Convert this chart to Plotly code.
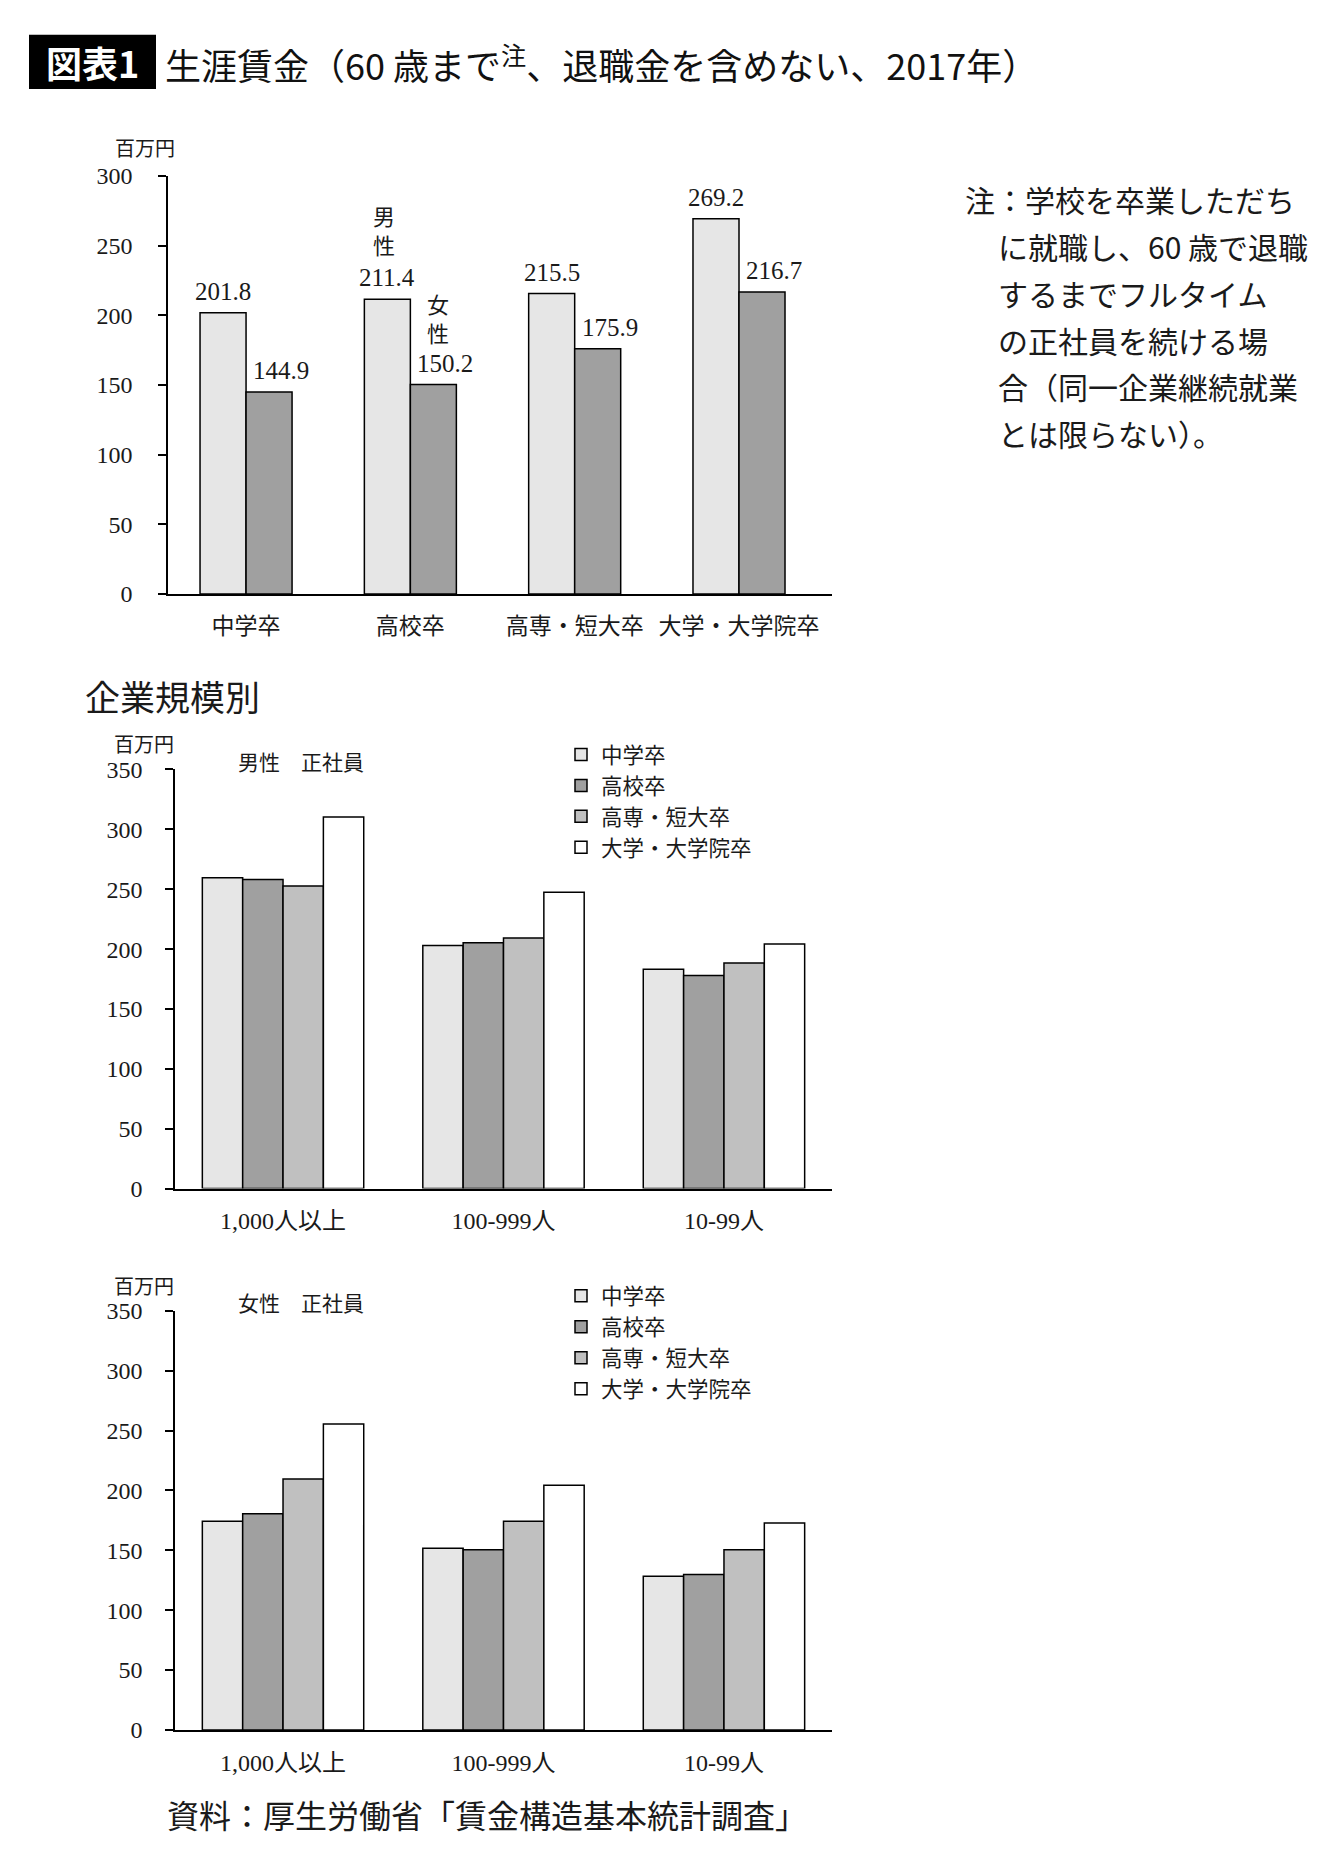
import plotly.graph_objects as go

# ---------- DATA ----------
EDU = ["中学卒", "高校卒", "高専・短大卒", "大学・大学院卒"]
LIFE_MALE = [201.8, 211.4, 215.5, 269.2]
LIFE_FEMALE = [144.9, 150.2, 175.9, 216.7]

SIZES = ["1,000人以上", "100-999人", "10-99人"]
# per education level, values across company sizes
MALE_BY_SIZE = {
    "中学卒": [259.6, 202.9, 183.2],
    "高校卒": [258.1, 205.2, 178.0],
    "高専・短大卒": [252.7, 209.2, 188.4],
    "大学・大学院卒": [310.3, 247.5, 204.3],
}
FEMALE_BY_SIZE = {
    "中学卒": [174.3, 151.8, 128.3],
    "高校卒": [180.6, 150.6, 129.8],
    "高専・短大卒": [209.5, 174.2, 150.5],
    "大学・大学院卒": [255.5, 204.4, 172.8],
}

NOTE_LINES = [
    "注：学校を卒業しただち",
    "に就職し、60 歳で退職",
    "するまでフルタイム",
    "の正社員を続ける場",
    "合（同一企業継続就業",
    "とは限らない）。",
]

# ---------- STYLE ----------
W, H = 1340, 1875
SERIF = "Liberation Serif, Noto Sans CJK JP"
SANS = "Noto Sans CJK JP"
INK = "#1a1a1a"
EDU_COLORS = ["#e6e6e6", "#a0a0a0", "#c0c0c0", "#ffffff"]
LINE = dict(color="black", width=1.5)


def px_x(p):
    return p / W


def px_y(p):
    return 1 - p / H


fig = go.Figure()

# ---------- CHART 1: lifetime wages ----------
bw1 = 0.28
fig.add_trace(go.Bar(x=EDU, y=LIFE_MALE, name="男性", marker=dict(color="#e6e6e6", line=LINE),
                     width=bw1, offset=-bw1, xaxis="x", yaxis="y", showlegend=False))
fig.add_trace(go.Bar(x=EDU, y=LIFE_FEMALE, name="女性", marker=dict(color="#a0a0a0", line=LINE),
                     width=bw1, offset=0, xaxis="x", yaxis="y", showlegend=False))

annotations = []
for cat, m, f in zip(EDU, LIFE_MALE, LIFE_FEMALE):
    annotations.append(dict(x=cat, y=m, xref="x", yref="y", text=f"{m:.1f}", showarrow=False,
                            xshift=-23, yshift=6, yanchor="bottom",
                            font=dict(family=SERIF, size=25, color=INK)))
    annotations.append(dict(x=cat, y=f, xref="x", yref="y", text=f"{f:.1f}", showarrow=False,
                            xshift=35, yshift=6, yanchor="bottom",
                            font=dict(family=SERIF, size=25, color=INK)))
# 男性 / 女性 markers beside the 高校卒 bars
annotations.append(dict(x=EDU[1], y=LIFE_MALE[1], xref="x", yref="y", text="男<br>性",
                        showarrow=False, xshift=-26, yshift=37, yanchor="bottom",
                        font=dict(family=SANS, size=22, color=INK)))
annotations.append(dict(x=EDU[1], y=LIFE_FEMALE[1], xref="x", yref="y", text="女<br>性",
                        showarrow=False, xshift=28, yshift=35, yanchor="bottom",
                        font=dict(family=SANS, size=22, color=INK)))

# ---------- CHARTS 2 & 3: by company size ----------
bw2 = 0.183
for i, edu in enumerate(EDU):
    off = -2 * bw2 + i * bw2
    fig.add_trace(go.Bar(x=SIZES, y=MALE_BY_SIZE[edu], name=edu,
                         marker=dict(color=EDU_COLORS[i], line=LINE),
                         width=bw2, offset=off, xaxis="x2", yaxis="y2", legend="legend"))
    fig.add_trace(go.Bar(x=SIZES, y=FEMALE_BY_SIZE[edu], name=edu,
                         marker=dict(color=EDU_COLORS[i], line=LINE),
                         width=bw2, offset=off, xaxis="x3", yaxis="y3", legend="legend2"))

# ---------- AXES ----------
xcommon = dict(type="category", showline=True, linecolor="black", linewidth=2,
               ticks="", showgrid=False, zeroline=False, ticklabelstandoff=10,
               tickfont=dict(family=SERIF, size=23, color=INK))
ycommon = dict(showline=True, linecolor="black", linewidth=1.5, ticks="outside",
               ticklen=8, tickwidth=1.5, tickcolor="black", showgrid=False, zeroline=False,
               dtick=50, ticklabelstandoff=21, tickfont=dict(family=SERIF, size=24, color=INK))

top1, bot1 = 157, 581
top2, bot2 = 759, 1184
top3, bot3 = 1308, 1733

legend_style = dict(xanchor="left", yanchor="top", bgcolor="rgba(0,0,0,0)",
                    font=dict(family=SANS, size=21.5, color=INK), tracegroupgap=0, itemwidth=30)

fig.update_layout(
    width=W, height=H, margin=dict(l=0, r=0, t=0, b=0),
    paper_bgcolor="white", plot_bgcolor="white", barmode="overlay",
    xaxis=dict(xcommon, domain=[px_x(160), px_x(824)], anchor="y", range=[-0.475, 3.566]),
    yaxis=dict(ycommon, domain=[px_y(bot1), px_y(top1)], anchor="x", range=[0, 300]),
    xaxis2=dict(xcommon, domain=[px_x(167), px_x(824)], anchor="y2", range=[-0.49, 2.49],
                tickfont=dict(family=SERIF, size=24, color=INK)),
    yaxis2=dict(ycommon, domain=[px_y(bot2), px_y(top2)], anchor="x2", range=[0, 350],
                ticklabelstandoff=18),
    xaxis3=dict(xcommon, domain=[px_x(167), px_x(824)], anchor="y3", range=[-0.49, 2.49],
                tickfont=dict(family=SERIF, size=24, color=INK)),
    yaxis3=dict(ycommon, domain=[px_y(bot3), px_y(top3)], anchor="x3", range=[0, 350],
                ticklabelstandoff=18),
    legend=dict(legend_style, x=px_x(553), y=px_y(723)),
    legend2=dict(legend_style, x=px_x(553), y=px_y(1272)),
)

# ---------- TEXT ----------
def paper_text(text, x, y, size, family=SANS, xanchor="left", color=INK):
    annotations.append(dict(text=text, x=px_x(x), y=px_y(y), xref="paper", yref="paper",
                            xanchor=xanchor, yanchor="middle", showarrow=False,
                            font=dict(family=family, size=size, color=color)))


# title block
fig.add_shape(type="rect", xref="paper", yref="paper", x0=px_x(21), x1=px_x(148),
              y0=px_y(69), y1=px_y(14), fillcolor="black", line=dict(width=0))
paper_text("<b>図表1</b>", 84.5, 42, 36, xanchor="center", color="white")
paper_text("生涯賃金（60 歳まで<sup>注</sup>、退職金を含めない、2017年）", 155, 43, 36,
           color="#111111")

# unit labels and sub-titles
paper_text("百万円", 137, 128, 20, xanchor="center")
paper_text("企業規模別", 75, 684, 35)
paper_text("百万円", 136, 733, 20, xanchor="center")
paper_text("男性　正社員", 228, 750, 21)
paper_text("百万円", 136, 1282, 20, xanchor="center")
paper_text("女性　正社員", 228, 1299, 21)
paper_text("資料：厚生労働省「賃金構造基本統計調査」", 157, 1818, 32)

# note
for i, line in enumerate(NOTE_LINES):
    paper_text(line, 955 if i == 0 else 988, 181 + i * 47.4, 30)

fig.update_layout(annotations=annotations)

fig.write_html("out.html")
